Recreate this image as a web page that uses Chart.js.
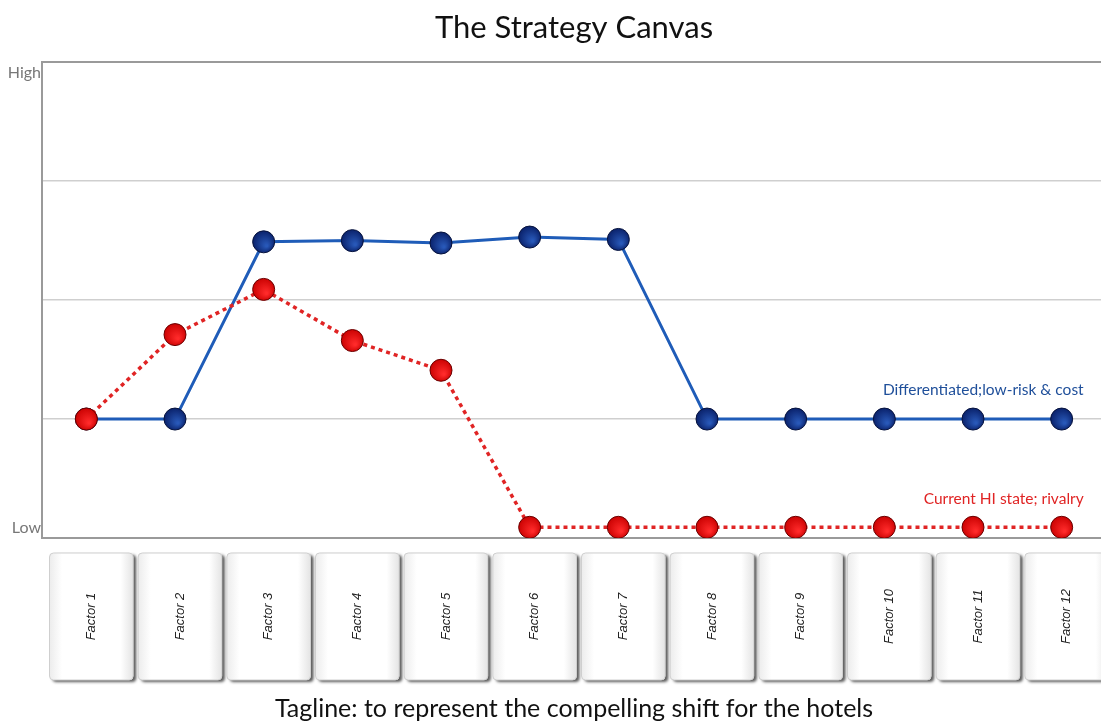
<!DOCTYPE html>
<html lang="en">
<head>
    <meta charset="utf-8">
    <script src="https://cdn.jsdelivr.net/npm/chart.js"></script>
    <style>
        html, body {
            margin: 0;
            padding: 0;
            overflow: hidden;
            background: #ffffff;
        }
        /* canvas is a bit wider than the window: the last column runs off the right edge */
        #canvasChart {
            display: block;
        }
    </style>
</head>
<body>
    <canvas id="canvasChart" width="1118" height="724"></canvas>
    <script>
        // chart data
        const factors = ['Factor 1', 'Factor 2', 'Factor 3', 'Factor 4', 'Factor 5', 'Factor 6',
                         'Factor 7', 'Factor 8', 'Factor 9', 'Factor 10', 'Factor 11', 'Factor 12'];
        const differentiated = [1, 1, 2.49, 2.50, 2.48, 2.53, 2.51, 1, 1, 1, 1, 1];
        const currentState = [1, 1.71, 2.09, 1.66, 1.41, 0.09, 0.09, 0.09, 0.09, 0.09, 0.09, 0.09];
        const seriesNames = ['Differentiated;low-risk & cost', 'Current HI state; rivalry'];
        const levelLabels = ['Low', 'High'];

        // shaded ball for each point
        function ballFill(dark, light) {
            return function (ctx) {
                const chart = ctx.chart;
                const sx = chart.scales.x, sy = chart.scales.y;
                if (!sx || !sy || ctx.type !== 'data') return dark;
                const x = sx.getPixelForValue(ctx.dataIndex);
                const y = sy.getPixelForValue(ctx.raw);
                if (!isFinite(x) || !isFinite(y)) return dark;
                const g = chart.ctx.createRadialGradient(x + 3, y + 4, 1, x, y, 12);
                g.addColorStop(0, light);
                g.addColorStop(1, dark);
                return g;
            };
        }

        // factor "buttons", level labels and series captions
        const canvasDecor = {
            id: 'canvasDecor',
            beforeDatasetsDraw(chart) {
                const { ctx, chartArea } = chart;
                ctx.save();
                ctx.fillStyle = '#777';
                ctx.font = '16px Lato, "Open Sans", sans-serif';
                ctx.textAlign = 'right';
                ctx.textBaseline = 'middle';
                ctx.fillText(levelLabels[1], chartArea.left - 1, chartArea.top + 11);
                ctx.fillText(levelLabels[0], chartArea.left - 1, chartArea.bottom - 10);
                ctx.restore();
            },
            afterDraw(chart) {
                const { ctx, chartArea } = chart;
                const sx = chart.scales.x;
                const step = sx.getPixelForValue(1) - sx.getPixelForValue(0);
                const w = step - 5, top = chartArea.bottom + 15, h = 127;
                ctx.save();
                factors.forEach((name, i) => {
                    const cx = sx.getPixelForValue(i) + 5;
                    const x = cx - w / 2;
                    // shadow
                    ctx.save();
                    ctx.shadowColor = 'rgba(0,0,0,0.65)';
                    ctx.shadowBlur = 3;
                    ctx.shadowOffsetX = 3;
                    ctx.shadowOffsetY = 2;
                    ctx.fillStyle = '#f4f4f4';
                    ctx.beginPath();
                    ctx.roundRect(x, top, w, h, 4);
                    ctx.fill();
                    ctx.restore();
                    const g = ctx.createLinearGradient(x, 0, x + w, 0);
                    g.addColorStop(0, '#ececec');
                    g.addColorStop(0.15, '#ffffff');
                    g.addColorStop(0.85, '#ffffff');
                    g.addColorStop(1, '#e4e4e4');
                    ctx.fillStyle = g;
                    ctx.strokeStyle = '#cfcfcf';
                    ctx.lineWidth = 1;
                    ctx.beginPath();
                    ctx.roundRect(x, top, w, h, 4);
                    ctx.fill();
                    ctx.stroke();
                    // label
                    ctx.save();
                    ctx.translate(cx, top + h / 2);
                    ctx.rotate(-Math.PI / 2);
                    ctx.fillStyle = '#222';
                    ctx.font = 'italic 13px "Liberation Sans", Arial, sans-serif';
                    ctx.textAlign = 'center';
                    ctx.textBaseline = 'middle';
                    ctx.fillText(name, 0, 0);
                    ctx.restore();
                });
                ctx.restore();

                // captions next to the last point of each line
                const last = factors.length - 1;
                const sy = chart.scales.y;
                ctx.save();
                ctx.font = '15.5px Lato, "Open Sans", sans-serif';
                ctx.textAlign = 'right';
                ctx.textBaseline = 'middle';
                ctx.fillStyle = '#1f4f9a';
                ctx.fillText(seriesNames[0], sx.getPixelForValue(last) + 22, sy.getPixelForValue(differentiated[last]) - 29);
                ctx.fillStyle = '#e02424';
                ctx.fillText(seriesNames[1], sx.getPixelForValue(last) + 22, sy.getPixelForValue(currentState[last]) - 28);
                ctx.restore();
            }
        };

        new Chart(document.getElementById('canvasChart'), {
            type: 'line',
            data: {
                labels: factors,
                datasets: [{
                    label: seriesNames[1],
                    data: currentState,
                    borderColor: '#e02424',
                    borderWidth: 3.5,
                    borderDash: [4, 4],
                    pointRadius: 11,
                    pointBorderWidth: 1,
                    pointBorderColor: '#6a0000',
                    pointBackgroundColor: ballFill('#c80000', '#ff2a2a'),
                    tension: 0
                }, {
                    label: seriesNames[0],
                    data: differentiated,
                    borderColor: '#1f5cb8',
                    borderWidth: 3,
                    pointRadius: 11,
                    pointBorderWidth: 1,
                    pointBorderColor: '#06123c',
                    pointBackgroundColor: ballFill('#081e66', '#2858b8'),
                    tension: 0
                }]
            },
            options: {
                responsive: false,
                animation: false,
                layout: { padding: { left: 0, right: 5, top: 0, bottom: 0 } },
                plugins: {
                    legend: { display: false },
                    tooltip: { enabled: false },
                    title: {
                        display: true,
                        text: 'The Strategy Canvas',
                        fullSize: false,
                        color: '#111',
                        font: { family: 'Lato, "Open Sans", sans-serif', size: 31, weight: 'normal' },
                        padding: { top: 9, bottom: 16 }
                    },
                    subtitle: {
                        display: true,
                        position: 'bottom',
                        text: 'Tagline: to represent the compelling shift for the hotels',
                        fullSize: false,
                        color: '#111',
                        font: { family: 'Lato, "Open Sans", sans-serif', size: 25, weight: 'normal' },
                        padding: { top: 4, bottom: 0 }
                    }
                },
                scales: {
                    x: {
                        offset: true,
                        grid: { display: false },
                        border: { display: true, color: '#9a9a9a', width: 2 },
                        ticks: { display: false },
                        afterFit: (scale) => { scale.height = 152; }
                    },
                    y: {
                        min: 0,
                        max: 4,
                        ticks: { display: false, stepSize: 1 },
                        border: { display: true, color: '#9a9a9a', width: 2 },
                        grid: {
                            drawTicks: false,
                            color: (ctx) => ctx.tick && ctx.tick.value === 4 ? '#9a9a9a' : '#cfcfcf',
                            lineWidth: (ctx) => ctx.tick && ctx.tick.value === 4 ? 2 : 1.5
                        },
                        afterFit: (scale) => { scale.width = 42; }
                    }
                }
            },
            plugins: [canvasDecor]
        });
    </script>
</body>
</html>
